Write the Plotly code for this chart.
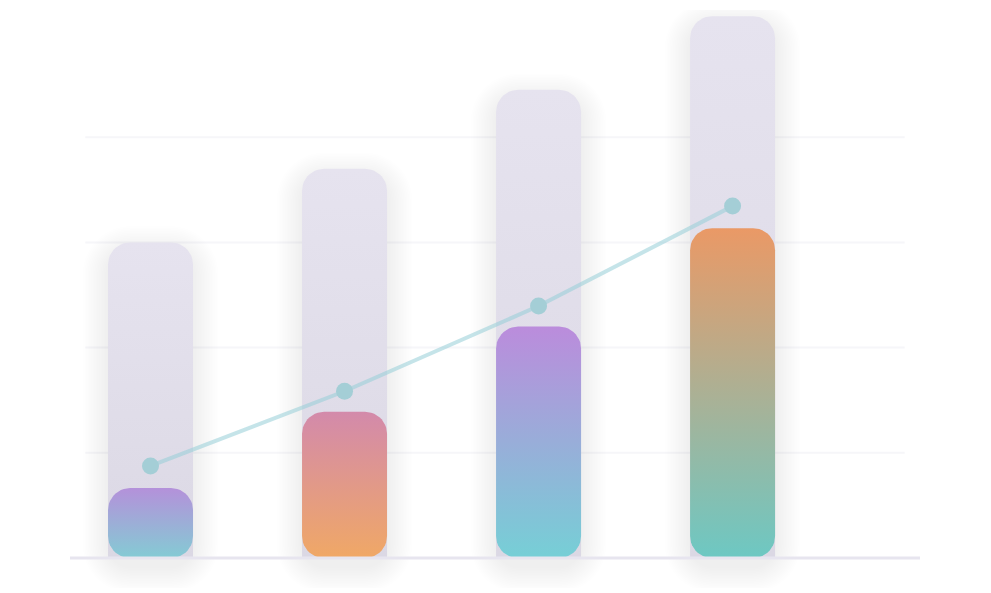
import numpy as np
import plotly.graph_objects as go

# values (axis units, gridline every 20)
categories = ["A", "B", "C", "D"]
target = [60, 74, 89, 103]
actual = [13.3, 27.8, 44, 62.7]
trend = [17.5, 31.7, 47.9, 66.9]
grid_vals = [20, 40, 60, 80]

# colours (top, bottom) for the front bars
front_colors = [
    ("#b491da", "#84cbd4"),
    ("#d38aab", "#f0a866"),
    ("#bb8cdc", "#76cfd6"),
    ("#ea9966", "#6dc8c3"),
]
back_top, back_bottom = "#e6e3ef", "#dbd8e4"

W, H = 991, 593
# page body adds 8px, so margins are a bit smaller than the picture
ml, mr, mt, mb = 62, 79, 2, 13
x_range = [-0.415, 3.966]
y_range = [-5.7, 104.18]
px_x = (W - ml - mr) / (x_range[1] - x_range[0])
px_y = (H - mt - mb) / (y_range[1] - y_range[0])
half_w = 42.5 / px_x
radius = 22


def rounded_bar(xc, y0, y1, hw, r, round_bottom=True, grow=0.0, shift=0.0):
    # outline of a rounded bar in data units, r / grow / shift in pixels
    hw = hw + grow / px_x
    y0 = y0 - grow / px_y - shift / px_y
    y1 = y1 + grow / px_y - shift / px_y
    r = r + grow
    rx, ry = r / px_x, r / px_y
    ry = min(ry, (y1 - y0) / 2)
    t = np.linspace(0, np.pi / 2, 12)
    xs, ys = [], []
    xs += list(xc + hw - rx + rx * np.cos(t))
    ys += list(y1 - ry + ry * np.sin(t))
    xs += list(xc - hw + rx - rx * np.sin(t))
    ys += list(y1 - ry + ry * np.cos(t))
    if round_bottom:
        xs += list(xc - hw + rx - rx * np.cos(t))
        ys += list(y0 + ry - ry * np.sin(t))
        xs += list(xc + hw - rx + rx * np.sin(t))
        ys += list(y0 + ry - ry * np.cos(t))
    else:
        xs += [xc - hw, xc + hw]
        ys += [y0, y0]
    xs.append(xs[0])
    ys.append(ys[0])
    return xs, ys


fig = go.Figure()

# soft shadows behind the tall bars
for i, v in enumerate(target):
    for k in range(1, 17):
        xs, ys = rounded_bar(i, 0, v, half_w, radius, grow=k * 1.6, shift=9)
        fig.add_trace(go.Scatter(
            x=xs, y=ys, mode="lines", fill="toself", line=dict(width=0),
            fillcolor="rgba(60,60,80,0.0028)", hoverinfo="skip",
        ))

# back bars
for i, v in enumerate(target):
    xs, ys = rounded_bar(i, 0, v, half_w, radius, round_bottom=False)
    fig.add_trace(go.Scatter(
        x=xs, y=ys, mode="lines", fill="toself", line=dict(width=0),
        fillgradient=dict(type="vertical",
                          colorscale=[[0, back_bottom], [1, back_top]]),
        hoverinfo="skip",
    ))

# front bars
for i, v in enumerate(actual):
    top, bottom = front_colors[i]
    xs, ys = rounded_bar(i, 0, v, half_w, radius)
    fig.add_trace(go.Scatter(
        x=xs, y=ys, mode="lines", fill="toself", line=dict(width=0),
        fillgradient=dict(type="vertical",
                          colorscale=[[0, bottom], [1, top]]),
        hovertext=f"{categories[i]}: {v}", hoverinfo="text",
    ))

# trend line
fig.add_trace(go.Scatter(
    x=list(range(len(trend))), y=trend, mode="lines",
    line=dict(color="rgba(150,205,215,0.55)", width=4),
    hoverinfo="skip",
))
fig.add_trace(go.Scatter(
    x=list(range(len(trend))), y=trend, mode="markers",
    marker=dict(color="#a4ced6", size=17),
    hovertemplate="%{y}<extra></extra>",
))

for g in grid_vals:
    fig.add_shape(type="line", xref="paper", yref="y", x0=0.018, x1=0.982,
                  y0=g, y1=g, line=dict(color="#f6f6f9", width=2), layer="below")
fig.add_shape(type="line", xref="paper", yref="y", x0=0, x1=1, y0=0, y1=0,
              line=dict(color="#e7e5ef", width=3), layer="above")

fig.update_layout(
    width=W, height=H,
    margin=dict(l=ml, r=mr, t=mt, b=mb),
    plot_bgcolor="white", paper_bgcolor="white",
    showlegend=False,
    xaxis=dict(range=x_range, visible=False, fixedrange=True),
    yaxis=dict(range=y_range, visible=False, fixedrange=True),
)

fig.write_html("out.html")
